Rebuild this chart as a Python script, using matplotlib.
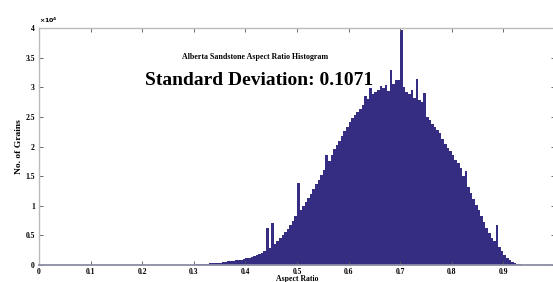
import numpy as np
import matplotlib
matplotlib.use("Agg")
import matplotlib.pyplot as plt

# histogram bins (left edges) and counts in units of 1e4
bin_width = 0.005
bin_start = 0.30
counts = [
    0.00, 0.01, 0.01, 0.02, 0.02, 0.02, 0.03, 0.03, 0.03, 0.04,   # 0.300-0.345
    0.04, 0.05, 0.05, 0.06, 0.06, 0.07, 0.08, 0.08, 0.09, 0.10,   # 0.350-0.395
    0.11, 0.12, 0.14, 0.15, 0.17, 0.19, 0.21, 0.24, 0.62, 0.29,   # 0.400-0.445
    0.71, 0.36, 0.40, 0.45, 0.50, 0.55, 0.61, 0.68, 0.74, 0.82,   # 0.450-0.495
    1.38, 0.93, 1.00, 1.06, 1.13, 1.20, 1.28, 1.36, 1.44, 1.52,   # 0.500-0.545
    1.60, 1.85, 1.76, 1.85, 1.95, 2.02, 2.10, 2.18, 2.26, 2.33,   # 0.550-0.595
    2.42, 2.48, 2.53, 2.58, 2.64, 2.70, 2.85, 2.80, 2.98, 2.88,   # 0.600-0.645
    2.92, 2.95, 3.02, 2.98, 3.04, 2.94, 3.29, 3.05, 3.12, 3.13,   # 0.650-0.695
    3.97, 3.00, 2.92, 2.88, 2.95, 2.82, 3.14, 2.78, 2.75, 2.90,   # 0.700-0.745
    2.50, 2.45, 2.38, 2.33, 2.28, 2.22, 2.13, 2.05, 1.98, 1.92,   # 0.750-0.795
    1.86, 1.78, 1.72, 1.64, 1.50, 1.58, 1.32, 1.22, 1.12, 1.02,   # 0.800-0.845
    0.92, 0.82, 0.72, 0.63, 0.54, 0.46, 0.40, 0.68, 0.30, 0.23,   # 0.850-0.895
    0.17, 0.12, 0.08, 0.05, 0.03, 0.02, 0.01, 0.005, 0.00,        # 0.900-0.940
]
edges = bin_start + bin_width * np.arange(len(counts))

xticks = [0, 0.1, 0.2, 0.3, 0.4, 0.5, 0.6, 0.7, 0.8, 0.9, 1.0]
yticks = [0, 0.5, 1, 1.5, 2, 2.5, 3, 3.5, 4]

plt.rcParams['font.family'] = ['Liberation Serif', 'DejaVu Serif']
plt.rcParams['font.weight'] = 'bold'

fig = plt.figure(figsize=(5.53, 2.82), dpi=100)
ax = fig.add_axes([39 / 553, 17 / 282, 516 / 553, 237 / 282])

ax.bar(edges, counts, width=bin_width, align='edge', color='#342d82',
       edgecolor='none', linewidth=0)

ax.set_xlim(0, 1)
ax.set_ylim(0, 4)
ax.set_xticks(xticks)
ax.set_yticks(yticks)
# the 1.0 label falls outside the cropped picture
ax.set_xticklabels(['%g' % t if t < 1 else '' for t in xticks])
ax.set_yticklabels(['%g' % t for t in yticks])
ax.tick_params(direction='in', length=3, width=0.6, color='#555555',
               labelsize=5.5, pad=3, top=True, right=True)
ax.tick_params(axis='x', pad=2)
for s in ax.spines.values():
    s.set_color('#bbbbbb')
    s.set_linewidth(1.0)
ax.spines['bottom'].set_color('#8c8ca4')
ax.spines['bottom'].set_linewidth(1.3)

ax.set_xlabel('Aspect Ratio', fontsize=5.6, fontweight='bold', labelpad=-0.8)
ax.set_ylabel('No. of Grains', fontsize=6.8, fontweight='bold', labelpad=2)

ax.text(0.0, 1.012, r'$\times10^4$', transform=ax.transAxes, fontsize=4.5,
        ha='left', va='bottom')
ax.text(0.419, 0.877, 'Alberta Sandstone Aspect Ratio Histogram',
        transform=ax.transAxes, fontsize=5.7, fontweight='bold',
        ha='center', va='center')
ax.text(0.427, 0.78, 'Standard Deviation: 0.1071', transform=ax.transAxes,
        fontsize=14, fontweight='bold', ha='center', va='center')

fig.savefig('out.png', dpi=100)
